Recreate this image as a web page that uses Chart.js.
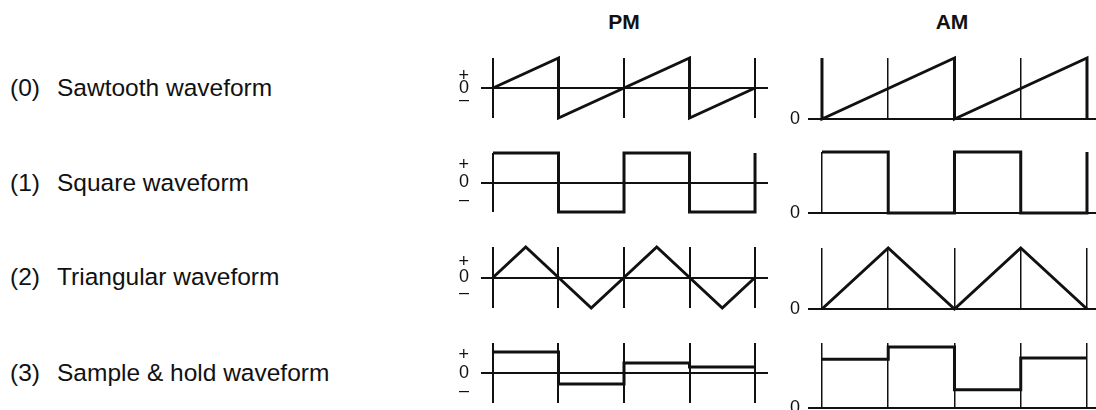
<!DOCTYPE html>
<html>
<head>
<meta charset="utf-8">
<script src="https://cdn.jsdelivr.net/npm/chart.js@4"></script>
<style>
  html, body { margin: 0; padding: 0; background: #fff; }
  #page { position: relative; width: 1096px; height: 410px; overflow: hidden; font-family: 'Liberation Sans', Arial, sans-serif; color: #111; }
  .title { position: absolute; top: 22px; transform: translate(-50%, -50%); font-size: 21px; font-weight: bold; }
  .rowlabel { position: absolute; transform: translateY(-50%); font-size: 24.5px; white-space: nowrap; }
  canvas { position: absolute; }
</style>
</head>
<body>
<div id="page"></div>
<script>
// =========================
// Data
// =========================

const columnTitles = ['PM', 'AM'];
const rowNumbers = ['(0)', '(1)', '(2)', '(3)'];
const rowNames = ['Sawtooth waveform', 'Square waveform', 'Triangular waveform', 'Sample & hold waveform'];

// vertical lines of each plot (one period = 2 divisions)
const gridTicks = [0, 1, 2, 3, 4];

// Sawtooth
const sawPmX = [0, 1, 1, 3, 3, 4];
const sawPmY = [0, 1, -1, 1, -1, 0];
const sawAmX = [0, 0, 2, 2, 4, 4];
const sawAmY = [1, 0, 1, 0, 1, 0];

// Square (level held after each grid tick)
const squarePm = [1, -1, 1, -1, 1];
const squareAm = [1, 0, 1, 0, 1];

// Triangular
const triPmX = [0, 0.5, 1, 1.5, 2, 2.5, 3, 3.5, 4];
const triPmY = [0, 1, 0, -1, 0, 1, 0, -1, 0];
const triAmX = [0, 1, 2, 3, 4];
const triAmY = [0, 1, 0, 1, 0];

// Sample & hold (level held after each grid tick)
const holdPm = [0.7, -0.37, 0.33, 0.2, 0.2];
const holdAm = [0.75, 0.94, 0.28, 0.77, 0.77];

// =========================
// Layout
// =========================

const INK = '#111';
const PAD = 6;
const pmCol = { left: 440, width: 330, axisWidth: 41, areaRight: 768, xMin: -0.183, xMax: 4.198, labelPad: 12, center: 624 };
const amCol = { left: 775, width: 321, axisWidth: 33, areaRight: 1096, xMin: -0.211, xMax: 4.136, labelPad: 8, center: 952 };
const pmAreas = [[58, 118], [153, 212], [247, 308], [343, 403]];
const amAreas = [[58, 119], [152, 213], [248, 309], [343, 408]];
const signSpread = [0.4, 0.6, 0.5, 0.6];
const rowCenters = [88, 183, 277, 373];

// =========================
// Helpers
// =========================

function pairs(xs, ys) {
  return xs.map((x, i) => ({ x: x, y: ys[i] }));
}

function steps(levels) {
  return gridTicks.map((x, i) => ({ x: x, y: levels[i] }));
}

// no extra room for the tick labels: the plot area is fixed by the layout
function semPadding(s) {
  s.paddingTop = 0;
  s.paddingBottom = 0;
  s.paddingLeft = 0;
  s.paddingRight = 0;
}

function criarGrafico(col, area, points, stepped, isPm, spread) {
  const page = document.getElementById('page');
  const canvas = document.createElement('canvas');
  const h = area[1] - area[0] + PAD * 2;
  canvas.width = col.width;
  canvas.height = h;
  canvas.style.left = col.left + 'px';
  canvas.style.top = (area[0] - PAD) + 'px';
  canvas.style.width = col.width + 'px';
  canvas.style.height = h + 'px';
  page.appendChild(canvas);

  const yTicks = isPm ? [-spread, 0, spread] : [0];

  return new Chart(canvas.getContext('2d'), {
    type: 'line',
    data: {
      datasets: [{
        data: points,
        borderColor: INK,
        borderWidth: 3,
        pointRadius: 0,
        tension: 0,
        stepped: stepped ? 'before' : false,
        clip: false
      }]
    },
    options: {
      responsive: false,
      animation: false,
      events: [],
      layout: { padding: { top: PAD, bottom: PAD, left: 0, right: col.width - (col.areaRight - col.left) } },
      plugins: { legend: { display: false }, tooltip: { enabled: false } },
      scales: {
        x: {
          type: 'linear',
          min: col.xMin,
          max: col.xMax,
          afterBuildTicks: s => { s.ticks = gridTicks.map(v => ({ value: v })); },
          afterFit: s => { s.height = 0; semPadding(s); },
          ticks: { display: false, autoSkip: false },
          border: { display: false },
          grid: { color: INK, lineWidth: isPm ? 2 : 1.5, drawTicks: false }
        },
        y: {
          type: 'linear',
          min: isPm ? -1 : 0,
          max: 1,
          afterBuildTicks: s => { s.ticks = yTicks.map(v => ({ value: v })); },
          afterFit: s => { s.width = col.axisWidth; semPadding(s); },
          border: { display: false },
          grid: {
            drawTicks: false,
            lineWidth: 2,
            color: ctx => (ctx.tick && ctx.tick.value === 0) ? INK : 'transparent'
          },
          ticks: {
            autoSkip: false,
            padding: col.labelPad,
            color: INK,
            font: { family: "'Liberation Sans', Arial, sans-serif", size: 18 },
            callback: v => v > 0 ? '+' : (v < 0 ? '\u2013' : '0')
          }
        }
      }
    }
  });
}

// =========================
// Texts
// =========================

function criarTextos() {
  const page = document.getElementById('page');
  [pmCol, amCol].forEach((col, i) => {
    const d = document.createElement('div');
    d.className = 'title';
    d.style.left = col.center + 'px';
    d.textContent = columnTitles[i];
    page.appendChild(d);
  });
  rowNames.forEach((name, i) => {
    const n = document.createElement('div');
    n.className = 'rowlabel';
    n.style.left = '10px';
    n.style.top = rowCenters[i] + 'px';
    n.textContent = rowNumbers[i];
    page.appendChild(n);

    const t = document.createElement('div');
    t.className = 'rowlabel';
    t.style.left = '57px';
    t.style.top = rowCenters[i] + 'px';
    t.textContent = name;
    page.appendChild(t);
  });
}

// =========================
// Build
// =========================

criarTextos();

const pmSeries = [
  { points: pairs(sawPmX, sawPmY), stepped: false },
  { points: steps(squarePm), stepped: true },
  { points: pairs(triPmX, triPmY), stepped: false },
  { points: steps(holdPm), stepped: true }
];
const amSeries = [
  { points: pairs(sawAmX, sawAmY), stepped: false },
  { points: steps(squareAm), stepped: true },
  { points: pairs(triAmX, triAmY), stepped: false },
  { points: steps(holdAm), stepped: true }
];

pmSeries.forEach((s, i) => criarGrafico(pmCol, pmAreas[i], s.points, s.stepped, true, signSpread[i]));
amSeries.forEach((s, i) => criarGrafico(amCol, amAreas[i], s.points, s.stepped, false, 0));
</script>
</body>
</html>
